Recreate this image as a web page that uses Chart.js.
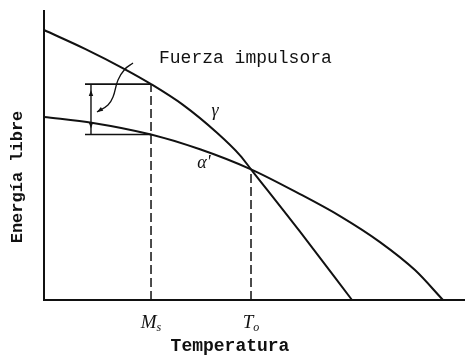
<!DOCTYPE html>
<html>
<head>
<meta charset="utf-8">
<script src="https://cdn.jsdelivr.net/npm/chart.js@4/dist/chart.umd.min.js"></script>
<style>
  html, body { margin: 0; padding: 0; background: #fff; }
  #wrap { width: 465px; height: 356px; }
</style>
</head>
<body>
<div id="wrap"><canvas id="c"></canvas></div>
<script>
// Free energy of austenite (gamma) and martensite (alpha') vs temperature
const gammaT = [0, 9.74, 19.24, 25.42, 33.02, 41.09, 46.56, 49.17, 60.81, 73.16];
const gammaG = [93.1, 86.6, 79.55, 74.45, 67.28, 57.66, 49.9, 45.07, 23.55, 0];
const alphaT = [0, 11.64, 25.42, 37.05, 49.17, 60.81, 70.31, 79.81, 88.12, 94.77];
const alphaG = [63.1, 61.07, 57.07, 52.0, 45.07, 36.52, 28.93, 19.97, 10.31, 0];

// Marked temperatures on the axis: Ms and T0
const tickT = [25.42, 49.17];
const tickMain = ['M', 'T'];
const tickSub = ['s', 'o'];
const tickG = [74.45, 45.07];      // top of each dashed guide (on the gamma curve)

// Driving-force bracket at Ms
const bracketT = [9.74, 25.42];
const bracketG = [74.45, 57.07];
const arrowT = 11.16;

// Leader line from the caption to the bracket
const leaderT = [21.14, 19.24, 17.58, 16.39, 15.2, 12.59];
const leaderG = [81.7, 79.66, 75.86, 70.0, 67.24, 64.83];

const pts = (xs, ys) => xs.map((v, i) => ({ x: v, y: ys[i] }));
const INK = '#111';

const curve = (xs, ys) => ({
  data: pts(xs, ys), borderColor: INK, borderWidth: 2, pointRadius: 0,
  cubicInterpolationMode: 'monotone', clip: false
});
const dashed = (xs, ys) => ({
  data: pts(xs, ys), borderColor: INK, borderWidth: 1.5, borderDash: [9, 4],
  pointRadius: 0, tension: 0, clip: false
});
const straight = (xs, ys, w) => ({
  data: pts(xs, ys), borderColor: INK, borderWidth: w, pointRadius: 0, tension: 0, clip: false
});

const datasets = [
  curve(gammaT, gammaG),
  curve(alphaT, alphaG),
  dashed([tickT[0], tickT[0]], [0, tickG[0]]),
  dashed([tickT[1], tickT[1]], [0, tickG[1]]),
  straight(bracketT, [bracketG[0], bracketG[0]], 1.6),
  straight(bracketT, [bracketG[1], bracketG[1]], 1.6),
  straight([arrowT, arrowT], bracketG, 1.4),
  { data: pts(leaderT, leaderG), borderColor: INK, borderWidth: 1.3, pointRadius: 0,
    tension: 0.4, clip: false }
];

function head(ctx, tipX, tipY, fromX, fromY, len, half) {
  const ang = Math.atan2(tipY - fromY, tipX - fromX);
  ctx.beginPath();
  ctx.moveTo(tipX, tipY);
  ctx.lineTo(tipX - len * Math.cos(ang) + half * Math.sin(ang), tipY - len * Math.sin(ang) - half * Math.cos(ang));
  ctx.lineTo(tipX - len * Math.cos(ang) - half * Math.sin(ang), tipY - len * Math.sin(ang) + half * Math.cos(ang));
  ctx.closePath();
  ctx.fill();
}

const decorations = {
  id: 'decorations',
  afterDatasetsDraw(chart) {
    const { ctx, chartArea: a, scales: { x, y } } = chart;
    ctx.save();
    ctx.strokeStyle = INK;
    ctx.fillStyle = INK;

    // axes
    ctx.lineWidth = 2;
    ctx.beginPath();
    ctx.moveTo(a.left, a.top);
    ctx.lineTo(a.left, a.bottom + 1);
    ctx.moveTo(a.left - 1, a.bottom);
    ctx.lineTo(a.right, a.bottom);
    ctx.stroke();

    // double arrow heads on the bracket
    const ax = x.getPixelForValue(arrowT);
    const yTop = y.getPixelForValue(bracketG[0]);
    const yBot = y.getPixelForValue(bracketG[1]);
    head(ctx, ax, yTop + 6, ax, yTop + 14, 6, 2.2);
    head(ctx, ax, yBot - 6, ax, yBot - 14, 6, 2.2);

    // leader arrow head
    const n = leaderT.length;
    head(ctx, x.getPixelForValue(leaderT[n - 1]), y.getPixelForValue(leaderG[n - 1]),
         x.getPixelForValue(leaderT[n - 2]), y.getPixelForValue(leaderG[n - 2]), 6, 2.2);

    // caption
    ctx.textBaseline = 'alphabetic';
    ctx.textAlign = 'left';
    ctx.font = '18px "Liberation Mono", monospace';
    ctx.fillText('Fuerza impulsora', 159, 63);

    // curve labels
    ctx.textAlign = 'center';
    ctx.font = 'italic 18px "Liberation Serif", serif';
    ctx.fillText('γ', 215, 116);
    ctx.fillText("α'", 204, 168);

    // Ms and T0 on the temperature axis
    tickT.forEach((t, i) => {
      const px = x.getPixelForValue(t);
      ctx.font = 'italic 19px "Liberation Serif", serif';
      const wMain = ctx.measureText(tickMain[i]).width;
      ctx.font = 'italic 12px "Liberation Serif", serif';
      const wSub = ctx.measureText(tickSub[i]).width;
      const left = px - (wMain + wSub) / 2;
      ctx.textAlign = 'left';
      ctx.font = 'italic 19px "Liberation Serif", serif';
      ctx.fillText(tickMain[i], left, 328);
      ctx.font = 'italic 12px "Liberation Serif", serif';
      ctx.fillText(tickSub[i], left + wMain, 331);
    });

    // axis titles
    ctx.textAlign = 'center';
    ctx.font = 'bold 18px "Liberation Mono", monospace';
    ctx.fillText('Temperatura', 230, 351);
    ctx.font = 'bold 17px "Liberation Mono", monospace';
    ctx.translate(22, 177);
    ctx.rotate(-Math.PI / 2);
    ctx.fillText('Energía libre', 0, 0);
    ctx.restore();
  }
};

new Chart(document.getElementById('c'), {
  type: 'line',
  data: { datasets },
  options: {
    responsive: true,
    maintainAspectRatio: false,
    animation: false,
    events: [],
    layout: { padding: { left: 44, right: 0, top: 10, bottom: 56 } },
    plugins: { legend: { display: false }, tooltip: { enabled: false } },
    scales: {
      x: { type: 'linear', min: 0, max: 100, display: false },
      y: { type: 'linear', min: 0, max: 100, display: false }
    }
  },
  plugins: [decorations]
});
</script>
</body>
</html>
